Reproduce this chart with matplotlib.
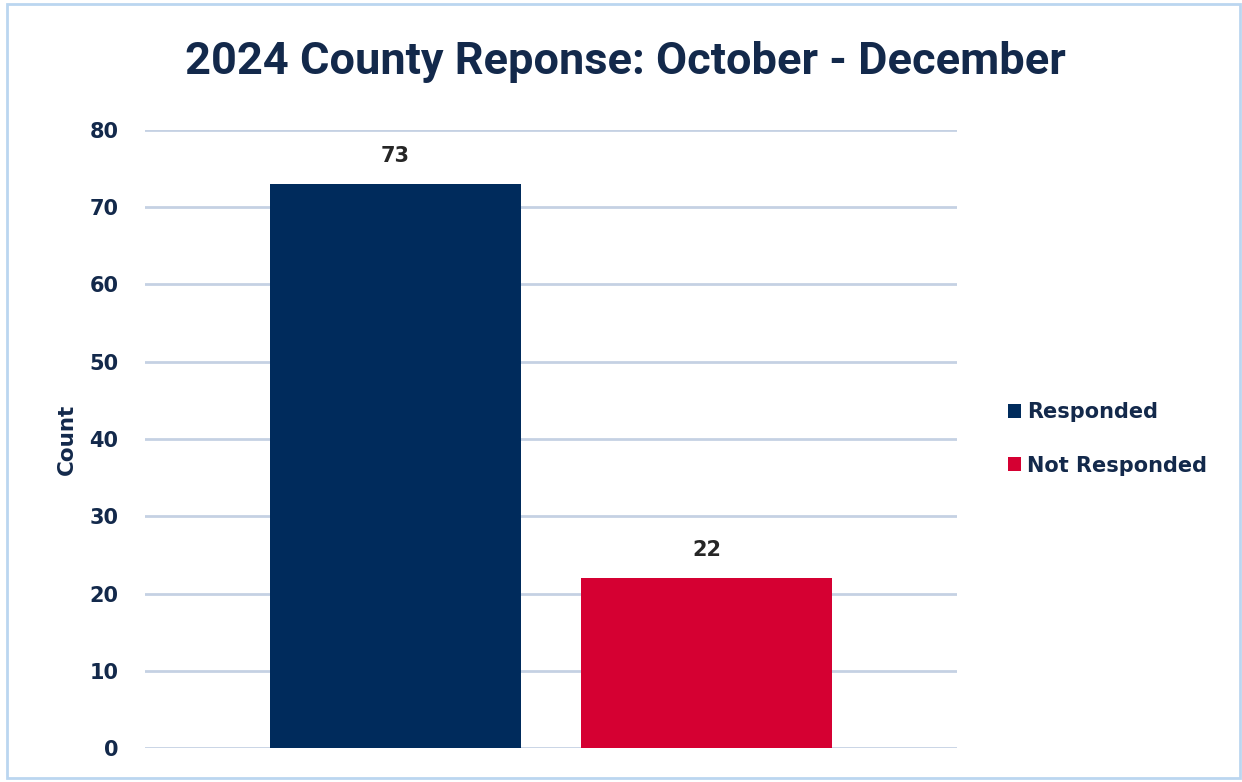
import matplotlib.pyplot as plt
from matplotlib.patches import Rectangle

series = ['Responded', 'Not Responded']
counts = [73, 22]
colors = ['#002B5C', '#D50032']
yticks = [0, 10, 20, 30, 40, 50, 60, 70, 80]

text_color = '#13294B'
body_font = 'DejaVu Sans'
plt.rcParams['font.family'] = ['Roboto', 'DejaVu Sans']

fig = plt.figure(figsize=(12.42, 7.82), dpi=100)
ax = fig.add_axes([145 / 1242, 1 - 748 / 782, (957 - 145) / 1242, (748 - 130) / 782])

bars = ax.bar(range(len(series)), counts, width=0.804, color=colors, label=series, zorder=3)
for b, v in zip(bars, counts):
    ax.text(b.get_x() + b.get_width() / 2, v + 2.4, str(v), ha='center', va='bottom',
            fontsize=15, fontweight='bold', color='#262626', family=body_font)

ax.set_xlim(-0.805, 1.805)
ax.set_ylim(0, 80)
ax.set_yticks(yticks)
ax.set_xticks([])
ax.grid(axis='y', color='#C5D1E3', linewidth=2, zorder=0)
ax.tick_params(axis='y', length=0, pad=19, labelsize=15, labelcolor=text_color)
for lbl in ax.get_yticklabels():
    lbl.set_fontweight('bold')
    lbl.set_family(body_font)
for s in ax.spines.values():
    s.set_visible(False)

ax.set_ylabel('Count', fontsize=15.5, fontweight='bold', color=text_color, labelpad=9, family=body_font)

fig.text(625 / 1242, 1 - 62 / 782, '2024 County Reponse: October - December', ha='center', va='center',
         fontsize=32.5, fontweight='bold', color=text_color)

ax.legend(handles=bars, labels=series, loc='center left', bbox_to_anchor=(1.052, 0.5), frameon=False,
          borderaxespad=0, handlelength=0.65, handleheight=0.65, handletextpad=0.3, labelspacing=1.6,
          prop={'weight': 'bold', 'size': 15, 'family': body_font}, labelcolor=text_color)

fig.patches.append(Rectangle((7 / 1242, 4 / 782), 1233 / 1242, 774 / 782, transform=fig.transFigure,
                             fill=False, edgecolor='#BBD6F0', linewidth=2))

fig.savefig('out.png', dpi=100)
